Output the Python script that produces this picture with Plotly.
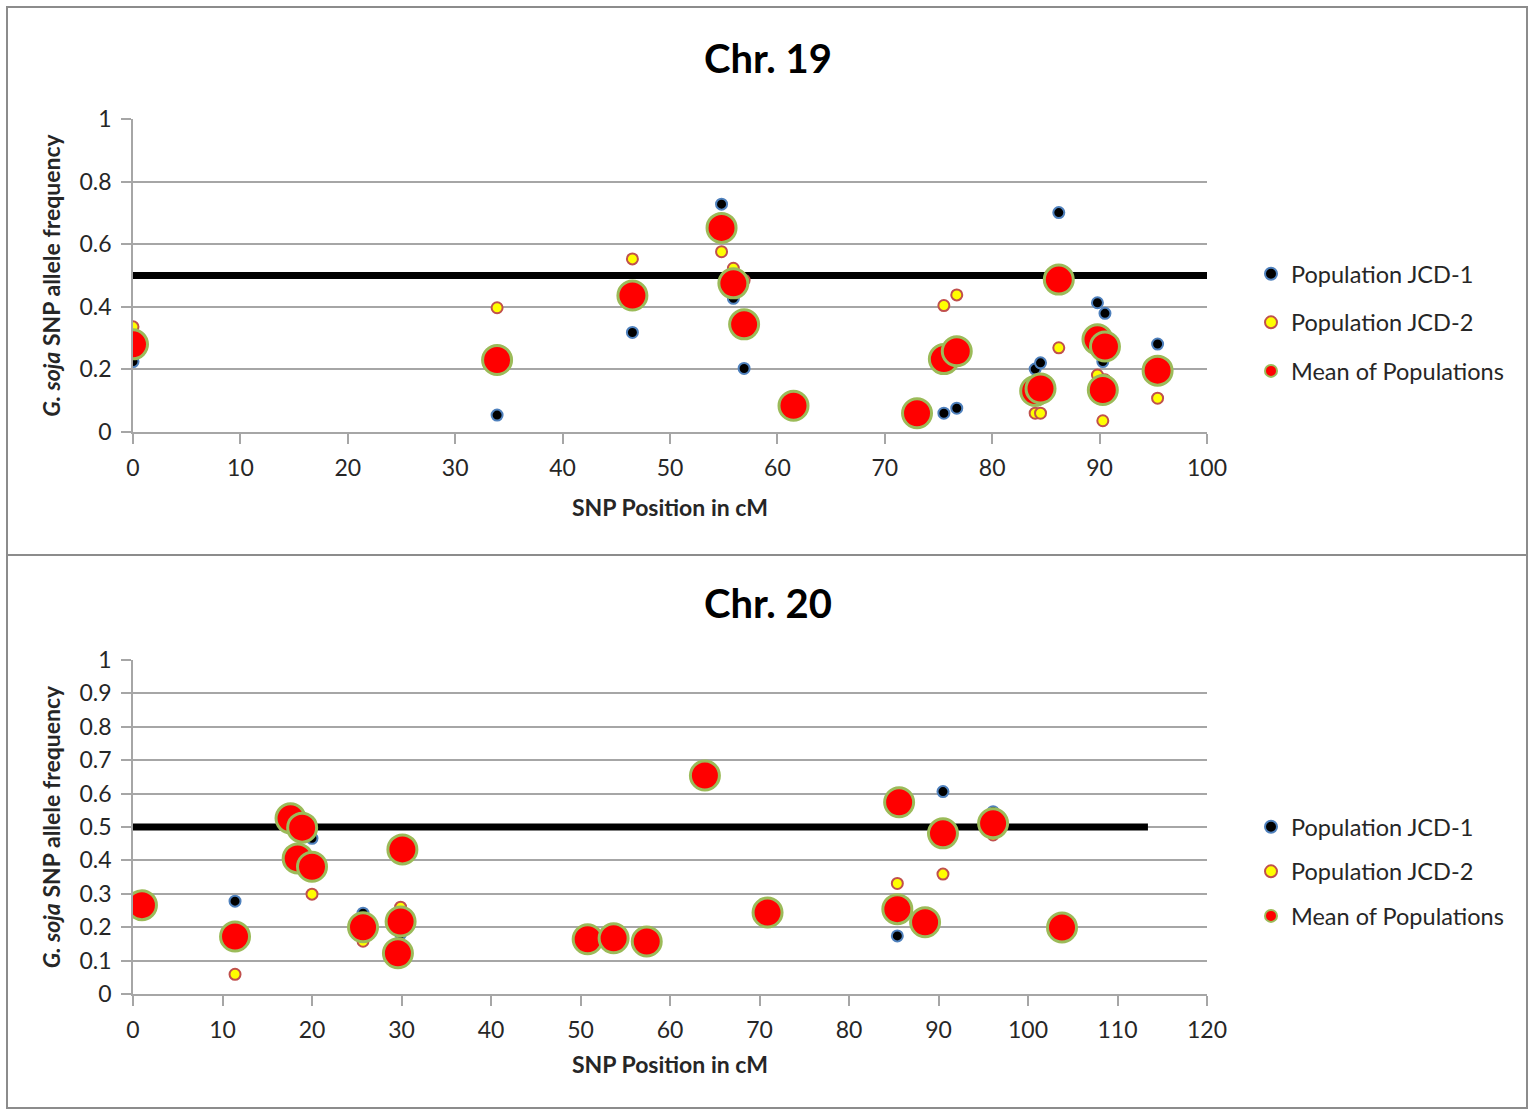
import plotly.graph_objects as go

# ---- Chr. 19 ----
pos19 = [0.0, 33.9, 46.5, 54.8, 55.9, 56.9, 61.5, 73.0, 75.5, 76.7, 84.0, 84.5,
         86.2, 89.8, 90.5, 90.3, 95.4]
jcd1_19 = [0.225, 0.054, 0.318, 0.728, 0.427, 0.203, 0.084, 0.060, 0.060, 0.076,
           0.201, 0.221, 0.701, 0.413, 0.379, 0.225, 0.281]
jcd2_19 = [0.336, 0.397, 0.553, 0.576, 0.523, 0.485, 0.084, 0.060, 0.404, 0.438,
           0.060, 0.060, 0.269, 0.182, 0.167, 0.036, 0.108]
mean19 = [0.280, 0.230, 0.436, 0.652, 0.475, 0.344, 0.084, 0.060, 0.233, 0.258,
          0.131, 0.139, 0.487, 0.296, 0.273, 0.134, 0.196]

# ---- Chr. 20 ----
pos20 = [1.0, 11.4, 17.6, 18.9, 18.4, 20.0, 25.7, 30.1, 29.9, 29.6, 50.8, 53.7,
         57.4, 63.9, 70.9, 85.6, 85.4, 88.5, 90.5, 96.1, 103.8]
jcd1_20 = [0.266, 0.278, 0.526, 0.498, 0.406, 0.466, 0.242, 0.433, 0.180, 0.122,
           0.164, 0.167, 0.157, 0.654, 0.244, 0.574, 0.174, 0.215, 0.606, 0.546, 0.199]
jcd2_20 = [0.266, 0.059, 0.526, 0.498, 0.406, 0.299, 0.158, 0.433, 0.260, 0.122,
           0.164, 0.167, 0.157, 0.654, 0.244, 0.574, 0.331, 0.215, 0.359, 0.476, 0.199]
mean20 = [0.266, 0.172, 0.526, 0.498, 0.406, 0.381, 0.200, 0.433, 0.217, 0.122,
          0.164, 0.167, 0.157, 0.654, 0.244, 0.574, 0.254, 0.215, 0.481, 0.511, 0.199]

# neutral expectation line (x-range per chromosome)
threshold = 0.5
line19_x = [0, 100]
line20_x = [0, 113.4]

series_names = ["Population JCD-1", "Population JCD-2", "Mean of Populations"]

FONT = "Lato"
TEXT = "#262626"
GRID = "#A6A6A6"

W, H = 1528, 1112


def px_x(p):
    return p / W


def px_y(p):
    return 1 - p / H


styles = [
    dict(size=11, color="black", line=dict(color="#4F81BD", width=2)),
    dict(size=11, color="#FFFF00", line=dict(color="#C0504D", width=2)),
    dict(size=29, color="#FF0000", line=dict(color="#9BBB59", width=3)),
]

fig = go.Figure()


def add_panel(xs, ys_list, line_x, xref, yref, legend):
    fig.add_trace(go.Scatter(
        x=line_x, y=[threshold, threshold], mode="lines",
        line=dict(color="black", width=7), showlegend=False,
        xaxis=xref, yaxis=yref, hoverinfo="skip"))
    for i, (name, ys) in enumerate(zip(series_names, ys_list)):
        fig.add_trace(go.Scatter(
            x=xs, y=ys, mode="markers", name=name, marker=styles[i],
            xaxis=xref, yaxis=yref, legend=legend,
            legendgroup=f"{legend}_{i}"))


add_panel(pos19, [jcd1_19, jcd2_19, mean19], line19_x, "x", "y", "legend")
add_panel(pos20, [jcd1_20, jcd2_20, mean20], line20_x, "x2", "y2", "legend2")

xdom = [px_x(133), px_x(1207)]
axis_common = dict(
    showline=True, linecolor=GRID, linewidth=1.5,
    ticks="outside", ticklen=10, tickcolor=GRID, tickwidth=1.5,
    tickfont=dict(family=FONT, size=23, color=TEXT), ticklabelstandoff=5,
    zeroline=False, automargin=False,
)


def xtitle(standoff):
    return dict(text="<b>SNP Position in cM</b>",
                font=dict(family=FONT, size=23, color=TEXT), standoff=standoff)


ytitle = dict(text="<b><i>G. soja</i> SNP allele frequency</b>",
              font=dict(family=FONT, size=23, color=TEXT), standoff=12)

legend_font = dict(family=FONT, size=23.5, color=TEXT)

fig.update_layout(
    width=W, height=H,
    margin=dict(l=0, r=0, t=0, b=0, pad=0, autoexpand=False),
    paper_bgcolor="white", plot_bgcolor="white",
    font=dict(family=FONT, color=TEXT),
    xaxis=dict(domain=xdom, anchor="y", range=[0, 100], dtick=10,
               showgrid=False, title=xtitle(20), **axis_common),
    yaxis=dict(domain=[px_y(432), px_y(119)], anchor="x", range=[0, 1],
               dtick=0.2, showgrid=True, gridcolor=GRID, gridwidth=1.5,
               title=ytitle, **axis_common),
    xaxis2=dict(domain=xdom, anchor="y2", range=[0, 120], dtick=10,
                showgrid=False, title=xtitle(15), **axis_common),
    yaxis2=dict(domain=[px_y(994), px_y(660)], anchor="x2", range=[0, 1],
                dtick=0.1, showgrid=True, gridcolor=GRID, gridwidth=1.5,
                title=ytitle, **axis_common),
    legend=dict(x=px_x(1251), y=px_y(252), xanchor="left", yanchor="top",
                font=legend_font, itemsizing="constant", tracegroupgap=15,
                bgcolor="rgba(0,0,0,0)"),
    legend2=dict(x=px_x(1251), y=px_y(805), xanchor="left", yanchor="top",
                 font=legend_font, itemsizing="constant", tracegroupgap=11,
                 bgcolor="rgba(0,0,0,0)"),
    annotations=[
        dict(text="<b>Chr. 19</b>", x=px_x(768), y=px_y(58), xref="paper",
             yref="paper", showarrow=False, xanchor="center", yanchor="middle",
             font=dict(family=FONT, size=40, color="black")),
        dict(text="<b>Chr. 20</b>", x=px_x(768), y=px_y(603), xref="paper",
             yref="paper", showarrow=False, xanchor="center", yanchor="middle",
             font=dict(family=FONT, size=40, color="black")),
    ],
    shapes=[
        dict(type="rect", xref="paper", yref="paper", x0=px_x(7), x1=px_x(1527),
             y0=px_y(1108), y1=px_y(7), line=dict(color="#8C8C8C", width=2)),
        dict(type="line", xref="paper", yref="paper", x0=px_x(7), x1=px_x(1527),
             y0=px_y(555), y1=px_y(555), line=dict(color="#8C8C8C", width=2)),
    ],
)

fig.write_html("out.html")
